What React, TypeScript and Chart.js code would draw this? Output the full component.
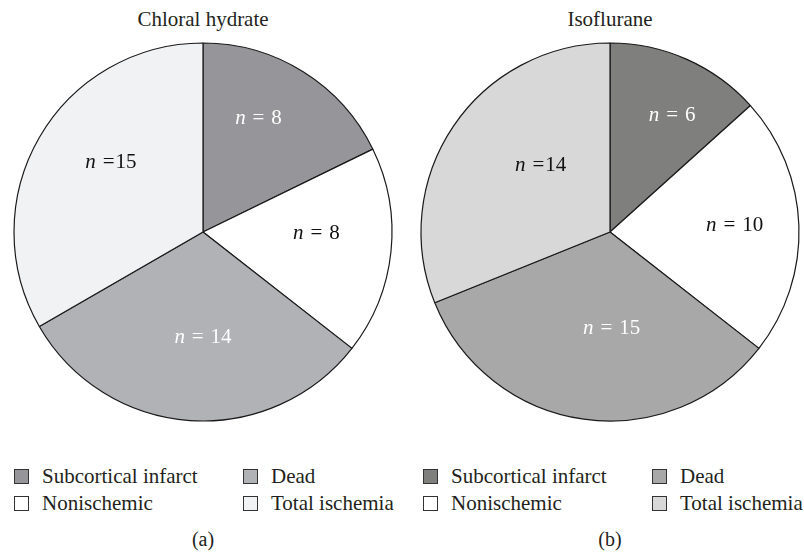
import React, { useEffect, useRef } from "react";
import { Chart, registerables } from "chart.js";

Chart.register(...registerables);

const categories = ["Subcortical infarct", "Nonischemic", "Dead", "Total ischemia"];
const chloralValues = [8, 8, 14, 15];
const isofluraneValues = [6, 10, 15, 14];
const chloralColors = ["#96969a", "#ffffff", "#b1b2b6", "#f1f2f4"];
const isofluraneColors = ["#7f7f7d", "#ffffff", "#a8a8a8", "#d8d8d8"];
const labelColors = ["#ffffff", "#111111", "#ffffff", "#111111"];
const chloralSpaceBeforeEq = [true, true, true, true];
const chloralSpaceAfterEq = [true, true, true, false];
const isofluraneSpaceAfterEq = [true, true, true, false];
const legendOrder = [0, 2, 1, 3];

// label placement (angle shift in degrees from slice middle, radius fraction)
const chloralLabelPlace = [
  [-6, 0.67],
  [-5, 0.6],
  [-4, 0.56],
  [7, 0.61],
];
const isofluraneLabelPlace = [
  [4, 0.7],
  [-1, 0.66],
  [-9, 0.51],
  [10, 0.51],
];

const FAMILY = '"Liberation Serif", "Times New Roman", serif';

const labelPlugin = {
  id: "nLabels",
  afterDatasetsDraw(chart: any) {
    const ctx = chart.ctx;
    const meta = chart.getDatasetMeta(0);
    const data = chart.data.datasets[0].data;
    const { place, spaceAfter } = chart.options.plugins.nLabels;
    meta.data.forEach((arc: any, i: number) => {
      const { x, y, startAngle, endAngle, outerRadius } = arc.getProps(
        ["x", "y", "startAngle", "endAngle", "outerRadius"],
        true
      );
      const mid = (startAngle + endAngle) / 2 + (place[i][0] * Math.PI) / 180;
      const r = outerRadius * place[i][1];
      const cx = x + Math.cos(mid) * r;
      const cy = y + Math.sin(mid) * r;
      const size = 21;
      const italic = "italic " + size + "px " + FAMILY;
      const normal = size + "px " + FAMILY;
      const gap = size * 0.33;
      const num = String(data[i]);
      ctx.save();
      ctx.font = italic;
      const wn = ctx.measureText("n").width;
      ctx.font = normal;
      const we = ctx.measureText("=").width;
      const wv = ctx.measureText(num).width;
      const total = wn + gap + we + (spaceAfter[i] ? gap : 1) + wv;
      let px = cx - total / 2;
      ctx.fillStyle = labelColors[i];
      ctx.textBaseline = "middle";
      ctx.textAlign = "left";
      ctx.font = italic;
      ctx.fillText("n", px, cy);
      px += wn + gap;
      ctx.font = normal;
      ctx.fillText("=", px, cy);
      px += we + (spaceAfter[i] ? gap : 1);
      ctx.fillText(num, px, cy);
      ctx.restore();
    });
  },
};

function PieCanvas({ values, colors, place, spaceAfter }: { values: number[]; colors: string[]; place: number[][]; spaceAfter: boolean[] }) {
  const ref = useRef<HTMLCanvasElement>(null);
  useEffect(() => {
    const chart = new Chart(ref.current!, {
      type: "pie",
      data: {
        labels: categories,
        datasets: [
          {
            data: values,
            backgroundColor: colors,
            borderColor: "#1a1a1a",
            borderWidth: 1.2,
          },
        ],
      },
      options: {
        responsive: false,
        animation: false,
        radius: 189,
        layout: { padding: 0 },
        plugins: {
          legend: { display: false },
          tooltip: { enabled: false },
          nLabels: { place, spaceAfter },
        } as any,
      } as any,
      plugins: [labelPlugin],
    });
    return () => chart.destroy();
  }, []);
  return <canvas ref={ref} width={400} height={400} style={{ width: 400, height: 400, display: "block" }} />;
}

const textStyle = {
  fontFamily: FAMILY,
  fontSize: 21,
  lineHeight: "24px",
  color: "#231f20",
  whiteSpace: "nowrap" as const,
};

function Legend({ colors, left }: { colors: string[]; left: number }) {
  return (
    <div style={{ position: "absolute", left, top: 464, width: 400, height: 56 }}>
      {legendOrder.map((idx, k) => {
        const col = k % 2;
        const row = k < 2 ? 0 : 1;
        return (
          <div key={idx} style={{ position: "absolute", left: col * 229, top: row * 27, height: 24, width: 200 }}>
            <span
              style={{
                position: "absolute",
                left: 0,
                top: 5,
                width: 13,
                height: 13,
                border: "1px solid #333",
                background: colors[idx],
              }}
            />
            <span style={{ ...textStyle, position: "absolute", left: 28, top: 0 }}>{categories[idx]}</span>
          </div>
        );
      })}
    </div>
  );
}

export default function App() {
  const panel = (
    title: string,
    values: number[],
    colors: string[],
    place: number[][],
    spaceAfter: boolean[],
    cx: number,
    caption: string
  ) => (
    <>
      <div style={{ ...textStyle, position: "absolute", left: cx - 150, width: 300, top: 7, textAlign: "center" }}>
        {title}
      </div>
      <div style={{ position: "absolute", left: cx - 200, top: 32 }}>
        <PieCanvas values={values} colors={colors} place={place} spaceAfter={spaceAfter} />
      </div>
      <div style={{ ...textStyle, fontSize: 20, position: "absolute", left: cx - 50, width: 100, top: 527, textAlign: "center" }}>
        {caption}
      </div>
    </>
  );
  return (
    <div style={{ position: "fixed", left: 0, top: 0, width: 804, height: 557, background: "#fff", overflow: "hidden" }}>
      {panel("Chloral hydrate", chloralValues, chloralColors, chloralLabelPlace, chloralSpaceAfterEq, 203, "(a)")}
      {panel("Isoflurane", isofluraneValues, isofluraneColors, isofluraneLabelPlace, isofluraneSpaceAfterEq, 610, "(b)")}
      <Legend colors={chloralColors} left={14} />
      <Legend colors={isofluraneColors} left={423} />
    </div>
  );
}
